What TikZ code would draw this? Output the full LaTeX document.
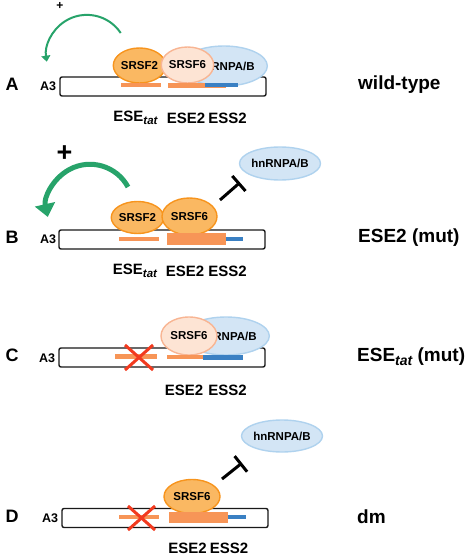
\documentclass[tikz,border=0pt]{standalone}
\usepackage{fontspec}
\setmainfont{Liberation Sans}
\usetikzlibrary{shapes.geometric,arrows.meta}
\definecolor{orfill}{HTML}{FAB862}
\definecolor{ordraw}{HTML}{F7941D}
\definecolor{pafill}{HTML}{FDE4D4}
\definecolor{padraw}{HTML}{F8B593}
\definecolor{hnfill}{HTML}{D3E5F5}
\definecolor{hndraw}{HTML}{AFD2EE}
\definecolor{barorange}{HTML}{F79557}
\definecolor{barblue}{HTML}{3A80C3}
\definecolor{arrgreen}{HTML}{27A36A}
\definecolor{xred}{HTML}{F23A1F}
\newcommand{\tatsmall}{\raisebox{-0.35ex}{\fontsize{11.5}{11.5}\selectfont\itshape tat}}
\newcommand{\tatbig}{\raisebox{-0.35ex}{\fontsize{14}{14}\selectfont\itshape tat}}
\tikzset{
  prot/.style={ellipse, line width=1.4pt, inner sep=0pt, font=\bfseries\fontsize{11.5}{11.5}\selectfont},
  orprot/.style={prot, fill=orfill, draw=ordraw},
  paleprot/.style={prot, fill=pafill, draw=padraw},
  hnprot/.style={prot, fill=hnfill, draw=hndraw},
  exon/.style={draw=black!90, line width=1.4pt, rounded corners=2pt, fill=white, inner sep=0pt, minimum height=19pt, minimum width=206pt},
  obar/.style={fill=barorange, inner sep=0pt},
  bbar/.style={fill=barblue, inner sep=0pt},
  site/.style={font=\bfseries\fontsize{15}{15}\selectfont, inner sep=0pt},
  cond/.style={font=\bfseries\fontsize{19}{19}\selectfont, anchor=west, inner sep=0pt},
  letter/.style={font=\bfseries\fontsize{18}{18}\selectfont, inner sep=0pt},
  athree/.style={font=\bfseries\fontsize{12.5}{12.5}\selectfont, inner sep=0pt},
  thinarc/.style={draw=arrgreen, line width=2pt, -{Triangle[length=6pt,width=9pt]}},
  thickarc/.style={draw=arrgreen, line width=5pt, -{Triangle[length=13pt,width=20pt]}},
  inhib/.style={line width=3pt, -{Bar[width=20pt,line width=3pt]}},
  redx/.style={draw=xred, line width=3pt}
}
\begin{document}
\begin{tikzpicture}[x=1pt,y=-1pt]
\useasboundingbox (0,0) rectangle (472,556);
% ---------------- Panel A ----------------
\node[letter] (LA) at (12,84) {A};
\node[athree] (TA) at (48,86.5) {A3};
\node[exon] (rA) at (163,86.5) {};
\node[hnprot, minimum width=52pt, minimum height=40pt] (hnA) at (224,66) {\hspace*{4pt}hnRNPA/B};
\node[orprot, minimum width=41pt, minimum height=35pt] (s2A) at (139.5,65.5) {SRSF2};
\node[paleprot, minimum width=51pt, minimum height=36pt] (s6A) at (187.5,65) {SRSF6};
\node[obar, minimum width=40pt, minimum height=4pt] (etA) at (141,85) {};
\node[obar, minimum width=58pt, minimum height=4.5pt] (e2A) at (197,85.5) {};
\node[bbar, minimum width=33pt, minimum height=4pt] (s2barA) at (221.5,85) {};
\node[site] (lEtA) at (135.5,118) {ESE\tatsmall};
\node[site] (lE2A) at (186,118) {ESE2};
\node[site] (lS2A) at (227.5,118) {ESS2};
\node[cond] (cA) at (358,85) {wild-type};
\coordinate (gA1) at (120.7,33);
\draw[thinarc] (gA1) arc[start angle=-33.6, end angle=-188.8, radius=40.6];
\node[font=\bfseries\fontsize{12}{12}\selectfont, inner sep=0pt] (pA) at (60,6) {+};
% ---------------- Panel B ----------------
\node[letter] (LB) at (12,237) {B};
\node[athree] (TB) at (48,239.5) {A3};
\node[exon] (rB) at (162,239.5) {};
\node[orprot, minimum width=44pt, minimum height=32pt] (s2B) at (137.5,217.5) {SRSF2};
\node[orprot, minimum width=55pt, minimum height=37pt] (s6B) at (189.5,216.5) {SRSF6};
\node[obar, minimum width=40pt, minimum height=4pt] (etB) at (139,239) {};
\node[obar, minimum width=59pt, minimum height=12pt] (e2B) at (196.5,239) {};
\node[bbar, minimum width=17pt, minimum height=4pt] (s2barB) at (234.5,239) {};
\node[hnprot, minimum width=62pt, minimum height=33pt] (hnB) at (280,163.5) {hnRNPA/B};
\coordinate (iB1) at (220,200);
\coordinate (iB2) at (240,182.5);
\draw[inhib] (iB1) -- (iB2);
\coordinate (gB1) at (128,187);
\draw[thickarc] (gB1) arc[start angle=-28.3, end angle=-192.7, radius=43.2];
\node[font=\bfseries\fontsize{27}{27}\selectfont, inner sep=0pt] (pB) at (64.5,153.5) {+};
\node[site] (lEtB) at (135,271) {ESE\tatsmall};
\node[site] (lE2B) at (185,271) {ESE2};
\node[site] (lS2B) at (227.5,271) {ESS2};
\node[cond] (cB) at (358,238) {ESE2 (mut)};
% ---------------- Panel C ----------------
\node[letter] (LC) at (12,355) {C};
\node[athree] (TC) at (47,358.5) {A3};
\node[exon] (rC) at (162,357.5) {};
\node[hnprot, minimum width=48pt, minimum height=38pt] (hnC) at (226,336) {\hspace*{4pt}hnRNPA/B};
\node[paleprot, minimum width=56pt, minimum height=38pt] (s6C) at (189,336) {SRSF6};
\node[obar, minimum width=42pt, minimum height=4.5pt] (etC) at (136,356.5) {};
\node[obar, minimum width=36pt, minimum height=4.5pt] (e2C) at (185,357) {};
\node[bbar, minimum width=40pt, minimum height=5pt] (s2barC) at (223,357.5) {};
\coordinate (xC1) at (125,345);
\coordinate (xC2) at (153,370);
\coordinate (xC3) at (125,370);
\coordinate (xC4) at (153,345);
\draw[redx] (xC1) -- (xC2);
\draw[redx] (xC3) -- (xC4);
\node[site] (lE2C) at (184,390) {ESE2};
\node[site] (lS2C) at (227.5,390) {ESS2};
\node[cond] (cC) at (357,357) {ESE\tatbig{} (mut)};
% ---------------- Panel D ----------------
\node[letter] (LD) at (12,516) {D};
\node[athree] (TD) at (50,518) {A3};
\node[exon] (rD) at (165,518) {};
\node[orprot, minimum width=56pt, minimum height=34pt] (s6D) at (192,496.5) {SRSF6};
\node[obar, minimum width=40pt, minimum height=4pt] (etD) at (139,517) {};
\node[obar, minimum width=59pt, minimum height=11pt] (e2D) at (198.5,517.5) {};
\node[bbar, minimum width=18pt, minimum height=4pt] (s2barD) at (237,517) {};
\coordinate (xD1) at (128,506);
\coordinate (xD2) at (155,530);
\coordinate (xD3) at (128,530);
\coordinate (xD4) at (155,506);
\draw[redx] (xD1) -- (xD2);
\draw[redx] (xD3) -- (xD4);
\node[hnprot, minimum width=62pt, minimum height=32pt] (hnD) at (282,436) {hnRNPA/B};
\coordinate (iD1) at (222,479);
\coordinate (iD2) at (242,463);
\draw[inhib] (iD1) -- (iD2);
\node[site] (lE2D) at (187.5,548.5) {ESE2};
\node[site] (lS2D) at (229,548.5) {ESS2};
\node[cond] (cD) at (357,517) {dm};
\end{tikzpicture}
\end{document}
